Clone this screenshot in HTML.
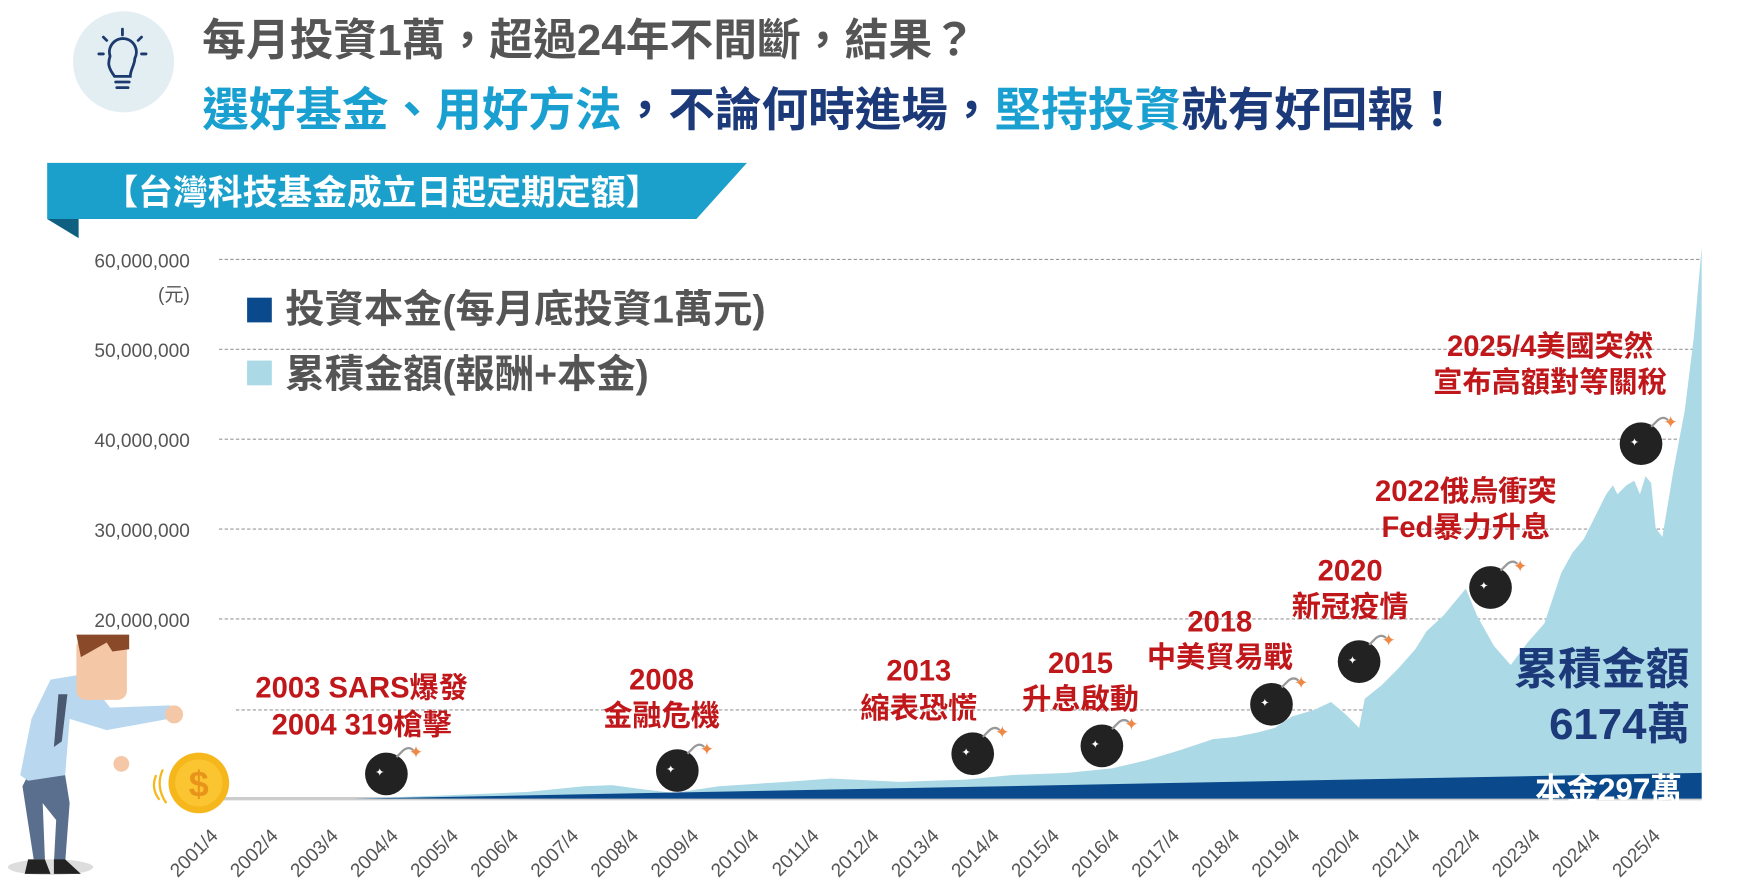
<!DOCTYPE html>
<html><head><meta charset="utf-8"><style>
html,body{margin:0;padding:0;background:#fff;}
svg{display:block;font-family:"Liberation Sans","Noto Sans CJK TC",sans-serif;}
</style></head><body>
<svg width="1741" height="891" viewBox="0 0 1550 793.2" preserveAspectRatio="none">
<circle cx="110" cy="55" r="45" fill="#e3eef3"/>
<g stroke="#1c3a6e" stroke-width="2.5" fill="none" stroke-linecap="round">
<path d="M102 68 C96 60 96 56 98 50 A12 12 0 1 1 120 52 C120 58 116 62 116 68 Z"/>
<line x1="103" y1="73" x2="115" y2="73"/><line x1="104" y1="78" x2="114" y2="78"/>
<line x1="109" y1="26" x2="109" y2="31"/><line x1="92" y1="33" x2="95" y2="36"/><line x1="126" y1="33" x2="123" y2="36"/>
<line x1="88" y1="48" x2="92" y2="48"/><line x1="126" y1="48" x2="130" y2="48"/>
</g>
<text x="180" y="49" font-size="39" font-weight="bold" fill="#555">每月投資1萬，超過24年不間斷，結果？</text>
<text x="180" y="112" font-size="41.5" font-weight="bold"><tspan fill="#1aa0d0">選好基金、用好方法</tspan><tspan fill="#1c3a7a">，不論何時進場，</tspan><tspan fill="#1aa0d0">堅持投資</tspan><tspan fill="#1c3a7a">就有好回報！</tspan></text>
<polygon points="42,195 70,195 70,212" fill="#0e5f80"/>
<polygon points="42,145 665,145 620,195 42,195" fill="#1ba0cc"/>
<text x="92" y="182" font-size="31" font-weight="bold" fill="#fff">【台灣科技基金成立日起定期定額】</text>
<g stroke="#999" stroke-width="1" stroke-dasharray="3,2">
<line x1="195" y1="231" x2="1515" y2="231"/><line x1="195" y1="311" x2="1515" y2="311"/>
<line x1="195" y1="391" x2="1515" y2="391"/><line x1="195" y1="471" x2="1515" y2="471"/>
<line x1="195" y1="551" x2="1515" y2="551"/><line x1="210" y1="632" x2="1515" y2="632"/>
</g>
<g font-size="17" fill="#555" text-anchor="end">
<text x="169" y="238">60,000,000</text><text x="169" y="268">(元)</text>
<text x="169" y="318">50,000,000</text><text x="169" y="398">40,000,000</text>
<text x="169" y="478">30,000,000</text><text x="169" y="558">20,000,000</text>
</g>
<rect x="220" y="265" width="22" height="22" fill="#0a4a8c"/>
<text x="254" y="287" font-size="35" font-weight="bold" fill="#555">投資本金(每月底投資1萬元)</text>
<rect x="220" y="321" width="22" height="22" fill="#acd9e6"/>
<text x="254" y="345" font-size="35" font-weight="bold" fill="#555">累積金額(報酬+本金)</text>
<line x1="195" y1="711" x2="1515" y2="711" stroke="#ccc" stroke-width="3"/>
<polygon fill="#acd9e6" points="315,711 400,708 470,705 520,700 545,699 575,703 600,706 640,700 700,696 740,693 800,696 860,694 900,690 950,688 990,684 1020,677 1050,668 1080,658 1100,656 1120,652 1135,648 1150,638 1170,632 1185,625 1198,636 1210,648 1215,622 1230,610 1245,595 1260,578 1270,562 1285,548 1300,530 1305,524 1315,548 1330,575 1345,592 1360,572 1375,555 1390,510 1400,492 1410,480 1420,460 1430,440 1436,432 1440,440 1448,432 1455,428 1460,440 1465,424 1470,430 1474,470 1480,478 1490,418 1500,365 1508,300 1515,220 1515,711"/>
<polygon fill="#0a4a8c" points="315,711 1515,688 1515,711"/>
<g fill="#1c3a7a" font-weight="bold" text-anchor="middle">
<text x="1426" y="609" font-size="39">累積金額</text>
<text x="1442" y="658" font-size="39">6174萬</text>
</g>
<text x="1432" y="712" font-size="28" font-weight="bold" fill="#fff" text-anchor="middle">本金297萬</text>
<g>
<g transform="translate(344,689)"><circle r="19" fill="#222"/><path d="M9,-15 L15,-21 Q20,-25 24,-21" stroke="#999" stroke-width="2" fill="none"/><text x="20" y="-14" font-size="15" fill="#e84">✦</text><text x="-10" y="2" font-size="10" fill="#fff">✦</text></g>
<g transform="translate(603,686)"><circle r="19" fill="#222"/><path d="M9,-15 L15,-21 Q20,-25 24,-21" stroke="#999" stroke-width="2" fill="none"/><text x="20" y="-14" font-size="15" fill="#e84">✦</text><text x="-10" y="2" font-size="10" fill="#fff">✦</text></g>
<g transform="translate(866,671)"><circle r="19" fill="#222"/><path d="M9,-15 L15,-21 Q20,-25 24,-21" stroke="#999" stroke-width="2" fill="none"/><text x="20" y="-14" font-size="15" fill="#e84">✦</text><text x="-10" y="2" font-size="10" fill="#fff">✦</text></g>
<g transform="translate(981,664)"><circle r="19" fill="#222"/><path d="M9,-15 L15,-21 Q20,-25 24,-21" stroke="#999" stroke-width="2" fill="none"/><text x="20" y="-14" font-size="15" fill="#e84">✦</text><text x="-10" y="2" font-size="10" fill="#fff">✦</text></g>
<g transform="translate(1132,627)"><circle r="19" fill="#222"/><path d="M9,-15 L15,-21 Q20,-25 24,-21" stroke="#999" stroke-width="2" fill="none"/><text x="20" y="-14" font-size="15" fill="#e84">✦</text><text x="-10" y="2" font-size="10" fill="#fff">✦</text></g>
<g transform="translate(1210,589)"><circle r="19" fill="#222"/><path d="M9,-15 L15,-21 Q20,-25 24,-21" stroke="#999" stroke-width="2" fill="none"/><text x="20" y="-14" font-size="15" fill="#e84">✦</text><text x="-10" y="2" font-size="10" fill="#fff">✦</text></g>
<g transform="translate(1327,523)"><circle r="19" fill="#222"/><path d="M9,-15 L15,-21 Q20,-25 24,-21" stroke="#999" stroke-width="2" fill="none"/><text x="20" y="-14" font-size="15" fill="#e84">✦</text><text x="-10" y="2" font-size="10" fill="#fff">✦</text></g>
<g transform="translate(1461,395)"><circle r="19" fill="#222"/><path d="M9,-15 L15,-21 Q20,-25 24,-21" stroke="#999" stroke-width="2" fill="none"/><text x="20" y="-14" font-size="15" fill="#e84">✦</text><text x="-10" y="2" font-size="10" fill="#fff">✦</text></g>
</g>
<g fill="#c0171b" font-size="26" font-weight="bold" text-anchor="middle">
<text x="322" y="621">2003 SARS爆發</text><text x="322" y="654">2004 319槍擊</text>
<text x="589" y="614">2008</text><text x="589" y="646">金融危機</text>
<text x="818" y="606">2013</text><text x="818" y="639">縮表恐慌</text>
<text x="962" y="599">2015</text><text x="962" y="631">升息啟動</text>
<text x="1086" y="562">2018</text><text x="1086" y="594">中美貿易戰</text>
<text x="1202" y="517">2020</text><text x="1202" y="549">新冠疫情</text>
<text x="1305" y="446">2022俄烏衝突</text><text x="1305" y="478">Fed暴力升息</text>
<text x="1380" y="317">2025/4美國突然</text><text x="1380" y="349">宣布高額對等關稅</text>
</g>
<g font-size="17" fill="#555" text-anchor="end">
<text transform="translate(195,745) rotate(-45)">2001/4</text>
<text transform="translate(248.5,745) rotate(-45)">2002/4</text>
<text transform="translate(302,745) rotate(-45)">2003/4</text>
<text transform="translate(355.5,745) rotate(-45)">2004/4</text>
<text transform="translate(409,745) rotate(-45)">2005/4</text>
<text transform="translate(462.5,745) rotate(-45)">2006/4</text>
<text transform="translate(516,745) rotate(-45)">2007/4</text>
<text transform="translate(569.5,745) rotate(-45)">2008/4</text>
<text transform="translate(623,745) rotate(-45)">2009/4</text>
<text transform="translate(676.5,745) rotate(-45)">2010/4</text>
<text transform="translate(730,745) rotate(-45)">2011/4</text>
<text transform="translate(783.5,745) rotate(-45)">2012/4</text>
<text transform="translate(837,745) rotate(-45)">2013/4</text>
<text transform="translate(890.5,745) rotate(-45)">2014/4</text>
<text transform="translate(944,745) rotate(-45)">2015/4</text>
<text transform="translate(997.5,745) rotate(-45)">2016/4</text>
<text transform="translate(1051,745) rotate(-45)">2017/4</text>
<text transform="translate(1104.5,745) rotate(-45)">2018/4</text>
<text transform="translate(1158,745) rotate(-45)">2019/4</text>
<text transform="translate(1211.5,745) rotate(-45)">2020/4</text>
<text transform="translate(1265,745) rotate(-45)">2021/4</text>
<text transform="translate(1318.5,745) rotate(-45)">2022/4</text>
<text transform="translate(1372,745) rotate(-45)">2023/4</text>
<text transform="translate(1425.5,745) rotate(-45)">2024/4</text>
<text transform="translate(1479,745) rotate(-45)">2025/4</text>
</g>
<ellipse cx="45" cy="772" rx="38" ry="7" fill="#ddd"/>
<path d="M20,700 L30,765 L40,765 L38,715 L50,730 L48,768 L58,768 L62,715 L58,690 L25,690 Z" fill="#5a6f8e"/>
<path d="M25,695 L58,690 L62,640 L95,650 L150,640 L152,628 L98,630 L75,600 L45,605 L28,640 L18,690 Z" fill="#b9d7ee"/>
<path d="M52,618 L60,618 L55,660 L48,665 Z" fill="#4a5870"/>
<rect x="68" y="568" width="45" height="55" rx="8" fill="#f4c7a6"/>
<path d="M68,565 L115,565 L115,578 L100,580 L95,572 L72,585 Z" fill="#8a4a2a"/>
<circle cx="155" cy="636" r="8" fill="#f4c7a6"/>
<circle cx="108" cy="680" r="7" fill="#f4c7a6"/>
<path d="M25,765 L22,778 L45,778 L40,765 Z M48,765 L48,778 L72,778 L58,765 Z" fill="#222"/>
<circle cx="177" cy="697" r="27" fill="#f5b71c"/>
<circle cx="177" cy="697" r="21" fill="#fbc531"/>
<text x="177" y="709" font-size="32" font-weight="bold" fill="#e8941a" text-anchor="middle">$</text>
<path d="M145,685 Q138,700 148,715 M139,690 Q134,702 142,712" stroke="#f5b71c" stroke-width="2" fill="none"/>
</svg>
</body></html>
